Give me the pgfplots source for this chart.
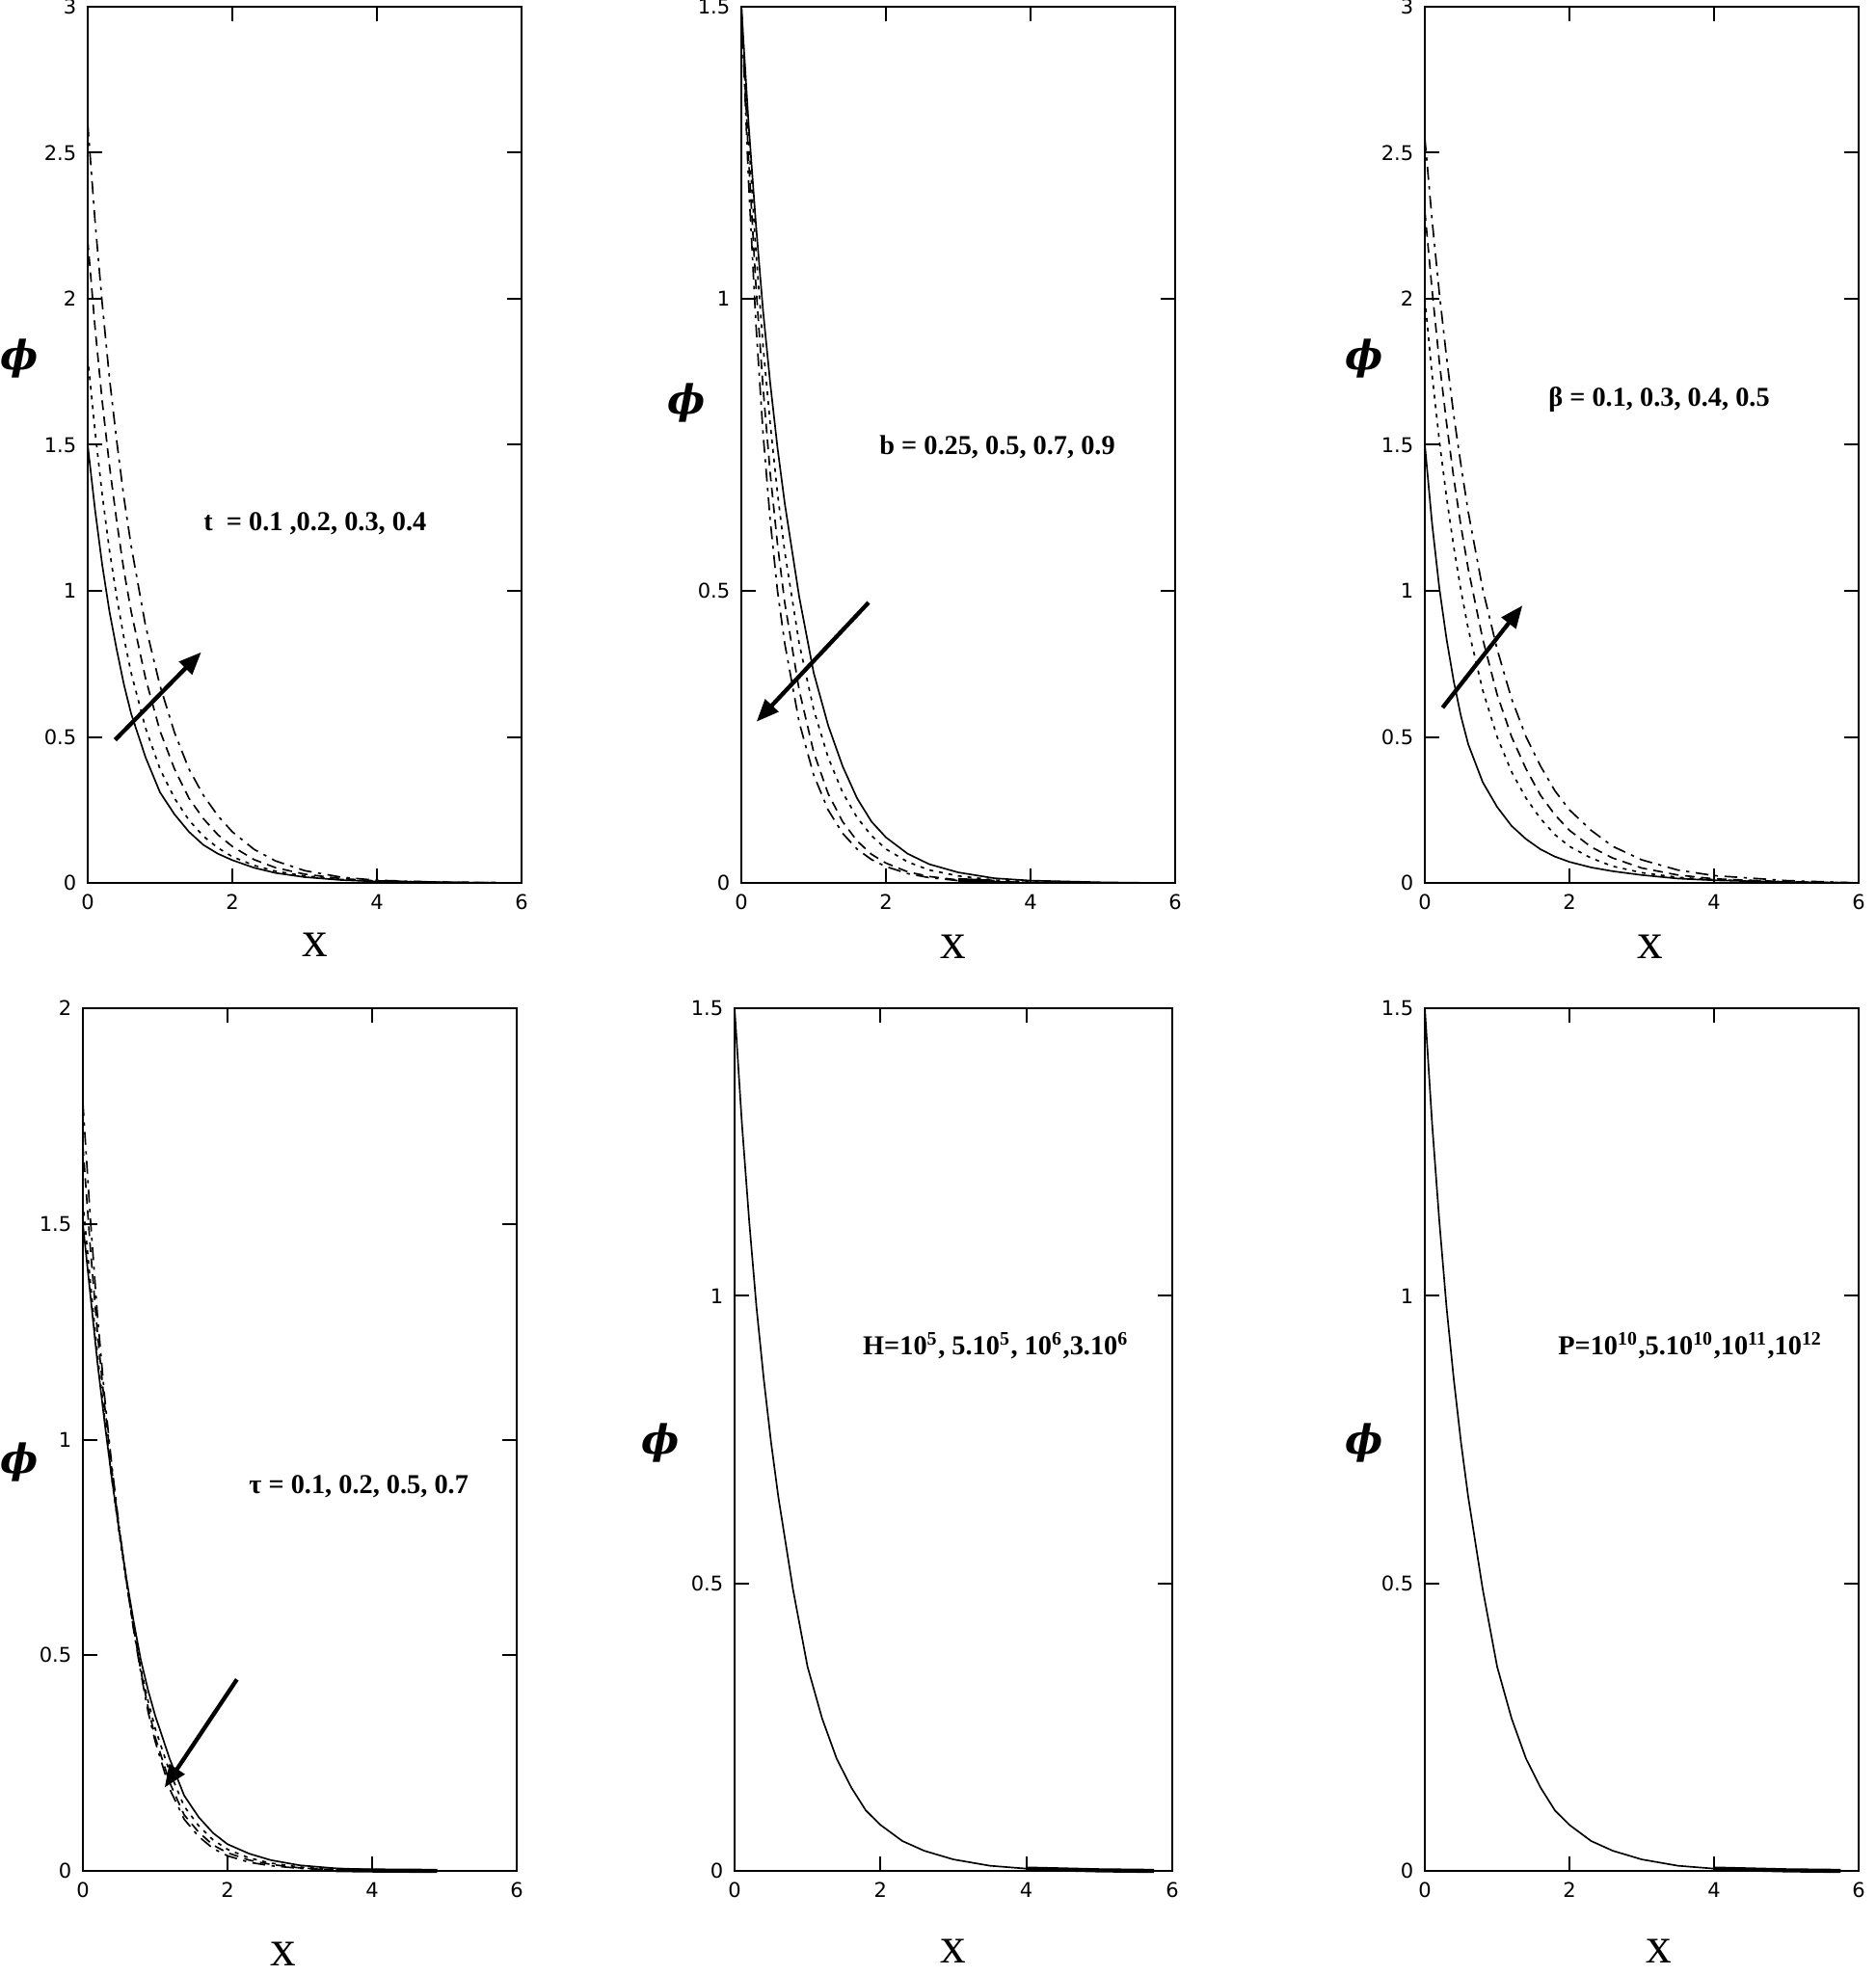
\documentclass[border=0pt]{standalone}
\usepackage{amsmath,amssymb}
\usepackage{fontspec}
\setmainfont{Liberation Serif}
\newfontfamily\tickfont{DejaVu Sans}
\newfontfamily\phifont{DejaVu Serif}
\usepackage{pgfplots}
\pgfplotsset{compat=1.18}
\usepackage{pgfplotstable}
\usetikzlibrary{arrows.meta}

% t panel
\pgfplotstableread{
x    a     b     c     d
0    1.50  1.80  2.20  2.60
0.1  1.28  1.55  1.905 2.27
0.2  1.09  1.33  1.65  1.985
0.3  0.93  1.14  1.43  1.73
0.4  0.80  0.98  1.24  1.515
0.5  0.68  0.84  1.07  1.32
0.6  0.58  0.72  0.93  1.155
0.8  0.43  0.53  0.70  0.88
1.0  0.31  0.39  0.52  0.675
1.2  0.235 0.29  0.39  0.515
1.4  0.175 0.215 0.29  0.39
1.6  0.13  0.16  0.22  0.30
1.8  0.10  0.12  0.165 0.23
2.0  0.078 0.09  0.125 0.175
2.3  0.052 0.06  0.08  0.115
2.6  0.034 0.04  0.052 0.075
3.0  0.02  0.024 0.03  0.042
3.5  0.01  0.012 0.015 0.02
4.0  0.005 0.006 0.007 0.009
5.0  0.002 0.002 0.002 0.002
5.9  0     0     0     0
}\tabT

% b panel
\pgfplotstableread{
x    a     b     c     d
0    1.50  1.50  1.50  1.50
0.1  1.30  1.275 1.24  1.20
0.2  1.13  1.085 1.026 0.96
0.3  0.98  0.92  0.848 0.77
0.4  0.855 0.785 0.70  0.62
0.5  0.745 0.667 0.58  0.50
0.6  0.65  0.567 0.48  0.41
0.8  0.49  0.41  0.33  0.275
1.0  0.36  0.297 0.224 0.185
1.2  0.27  0.215 0.153 0.125
1.4  0.20  0.155 0.105 0.085
1.6  0.145 0.112 0.072 0.058
1.8  0.105 0.081 0.049 0.04
2.0  0.078 0.058 0.034 0.028
2.3  0.05  0.036 0.019 0.016
2.6  0.032 0.022 0.011 0.009
3.0  0.018 0.012 0.005 0.004
3.5  0.008 0.005 0.002 0.002
4.0  0.004 0.002 0.001 0.001
5.0  0.001 0     0     0
5.7  0     0     0     0
}\tabB

% beta panel
\pgfplotstableread{
x    a     b     c     d
0    1.50  2.00  2.30  2.55
0.1  1.23  1.74  2.03  2.27
0.2  1.01  1.515 1.785 2.02
0.3  0.835 1.32  1.575 1.80
0.4  0.69  1.15  1.385 1.60
0.5  0.57  1.00  1.22  1.43
0.6  0.475 0.87  1.075 1.27
0.8  0.345 0.66  0.835 1.006
1.0  0.26  0.50  0.645 0.80
1.2  0.195 0.38  0.50  0.63
1.4  0.15  0.29  0.39  0.50
1.6  0.115 0.22  0.30  0.40
1.8  0.09  0.165 0.233 0.315
2.0  0.072 0.125 0.18  0.25
2.3  0.053 0.085 0.123 0.18
2.6  0.04  0.057 0.085 0.125
3.0  0.027 0.035 0.051 0.079
3.5  0.015 0.019 0.027 0.044
4.0  0.009 0.011 0.014 0.025
5.0  0.003 0.004 0.004 0.008
6.0  0     0     0     0
}\tabBeta

% tau panel
\pgfplotstableread{
x    a     b     c     d
0    1.50  1.55  1.68  1.78
0.1  1.34  1.37  1.45  1.52
0.2  1.18  1.20  1.25  1.29
0.3  1.04  1.05  1.08  1.10
0.4  0.91  0.91  0.93  0.94
0.5  0.79  0.785 0.795 0.80
0.6  0.68  0.67  0.675 0.675
0.7  0.58  0.565 0.565 0.56
0.8  0.49  0.47  0.465 0.46
0.9  0.42  0.395 0.38  0.37
1.0  0.36  0.33  0.31  0.30
1.2  0.26  0.23  0.205 0.19
1.4  0.175 0.15  0.13  0.12
1.6  0.125 0.105 0.09  0.08
1.8  0.088 0.072 0.06  0.052
2.0  0.062 0.05  0.042 0.035
2.3  0.04  0.03  0.025 0.02
2.6  0.025 0.018 0.015 0.012
3.0  0.013 0.009 0.007 0.006
3.5  0.006 0.004 0.003 0.002
4.0  0.003 0.002 0.001 0.001
4.9  0     0     0     0
}\tabTau

% H and P panels (curves coincide)
\pgfplotstableread{
x    a
0    1.50
0.1  1.30
0.2  1.13
0.3  0.98
0.4  0.855
0.5  0.745
0.6  0.65
0.8  0.49
1.0  0.355
1.2  0.265
1.4  0.195
1.6  0.145
1.8  0.105
2.0  0.08
2.3  0.052
2.6  0.035
3.0  0.02
3.5  0.009
4.0  0.004
5.0  0.001
5.75 0
}\tabHP

\pgfplotsset{
  panel/.style={
    scale only axis, anchor=north west, width=135pt,
    xmin=0, xmax=6, ymin=0, xtick={0,2,4,6},
    tick align=inside, major tick length=4.5pt,
    axis line style={line width=0.6pt},
    tick style={black, line width=0.6pt},
    tick label style={font=\tickfont\fontsize{6.3}{7}\selectfont},
    /pgf/number format/assume math mode=true,
    clip=false,
  },
}
\tikzset{
  s1/.style={black, line width=0.5pt},
  s2/.style={black, line width=0.5pt, dash pattern=on 1.2pt off 1.8pt},
  s3/.style={black, line width=0.5pt, dash pattern=on 3pt off 2pt},
  s4/.style={black, line width=0.5pt, dash pattern=on 4pt off 2pt on 1pt off 2pt},
  tail/.style={black, line width=1.3pt},
  arr/.style={line width=1.3pt, -{Triangle[length=7pt,width=5.5pt]}},
}
\newcommand{\philab}{{\phifont\fontsize{12.5}{12.5}\selectfont\bfseries\itshape ϕ}}
\newcommand{\xlab}{{\fontsize{16}{16}\selectfont x}}
\newcommand{\ann}{\bfseries\fontsize{8.5}{10}\selectfont}

\begin{document}
\begin{tikzpicture}
\useasboundingbox (0,0) rectangle (583.5pt,-614.7pt);

% top row
\begin{axis}[panel, at={(27.3pt,-2.1pt)}, height=272.7pt, ymax=3,
    ytick={0,0.5,1,1.5,2,2.5,3}]
  \addplot[s1] table[x=x,y=a] {\tabT};
  \addplot[s2] table[x=x,y=b] {\tabT};
  \addplot[s3] table[x=x,y=c] {\tabT};
  \addplot[s4] table[x=x,y=d] {\tabT};
  \addplot[tail, restrict x to domain=3.3:3.9] table[x=x,y=a] {\tabT};
  \draw[arr] (axis cs:0.38,0.49) -- (axis cs:1.57,0.79);
  \node[font=\ann] at (rel axis cs:0.524,0.41) {t\ \ = 0.1 ,0.2, 0.3, 0.4};
  \node at (rel axis cs:-0.158,0.598) {\philab};
  \node at (rel axis cs:0.524,0) [yshift=-19.2pt] {\xlab};
\end{axis}

\begin{axis}[panel, at={(230.7pt,-2.1pt)}, height=272.7pt, ymax=1.5,
    ytick={0,0.5,1,1.5}]
  \addplot[s1] table[x=x,y=a] {\tabB};
  \addplot[s2] table[x=x,y=b] {\tabB};
  \addplot[s3] table[x=x,y=c] {\tabB};
  \addplot[s4] table[x=x,y=d] {\tabB};
  \addplot[tail, restrict x to domain=3.0:3.7] table[x=x,y=c] {\tabB};
  \draw[arr] (axis cs:1.76,0.48) -- (axis cs:0.21,0.276);
  \node[font=\ann] at (rel axis cs:0.59,0.497) {b = 0.25, 0.5, 0.7, 0.9};
  \node at (rel axis cs:-0.126,0.548) {\philab};
  \node at (rel axis cs:0.488,0) [yshift=-20pt] {\xlab};
\end{axis}

\begin{axis}[panel, at={(443.4pt,-2.1pt)}, height=272.7pt, ymax=3,
    ytick={0,0.5,1,1.5,2,2.5,3}]
  \addplot[s1] table[x=x,y=a] {\tabBeta};
  \addplot[s2] table[x=x,y=b] {\tabBeta};
  \addplot[s3] table[x=x,y=c] {\tabBeta};
  \addplot[s4] table[x=x,y=d] {\tabBeta};
  \draw[arr] (axis cs:0.245,0.60) -- (axis cs:1.35,0.95);
  \node[font=\ann] at (rel axis cs:0.54,0.552) {β = 0.1, 0.3, 0.4, 0.5};
  \node at (rel axis cs:-0.14,0.598) {\philab};
  \node at (rel axis cs:0.52,0) [yshift=-20pt] {\xlab};
\end{axis}

% bottom row
\begin{axis}[panel, at={(25.8pt,-313.8pt)}, height=268.5pt, ymax=2,
    ytick={0,0.5,1,1.5,2}]
  \addplot[s1] table[x=x,y=a] {\tabTau};
  \addplot[s2] table[x=x,y=b] {\tabTau};
  \addplot[s3] table[x=x,y=c] {\tabTau};
  \addplot[s4] table[x=x,y=d] {\tabTau};
  \addplot[tail, restrict x to domain=3.5:4.9] table[x=x,y=d] {\tabTau};
  \draw[arr] (axis cs:2.13,0.444) -- (axis cs:1.13,0.193);
  \node[font=\ann] at (rel axis cs:0.636,0.445) {τ = 0.1, 0.2, 0.5, 0.7};
  \node at (rel axis cs:-0.147,0.474) {\philab};
  \node at (rel axis cs:0.462,0) [yshift=-26pt] {\xlab};
\end{axis}

\begin{axis}[panel, at={(228.6pt,-313.8pt)}, width=136.2pt, height=268.5pt, ymax=1.5,
    ytick={0,0.5,1,1.5}]
  \addplot[s1] table[x=x,y=a] {\tabHP};
  \addplot[tail, restrict x to domain=4.0:5.75] table[x=x,y=a] {\tabHP};
  \node[font=\ann] at (rel axis cs:0.597,0.609)
    {H=10\textsuperscript{5}, 5.10\textsuperscript{5}, 10\textsuperscript{6},3.10\textsuperscript{6}};
  \node at (rel axis cs:-0.17,0.496) {\philab};
  \node at (rel axis cs:0.5,0) [yshift=-25pt] {\xlab};
\end{axis}

\begin{axis}[panel, at={(443.4pt,-313.8pt)}, height=268.5pt, ymax=1.5,
    ytick={0,0.5,1,1.5}]
  \addplot[s1] table[x=x,y=a] {\tabHP};
  \addplot[tail, restrict x to domain=4.0:5.75] table[x=x,y=a] {\tabHP};
  \node[font=\ann] at (rel axis cs:0.612,0.609)
    {P=10\textsuperscript{10},5.10\textsuperscript{10},10\textsuperscript{11},10\textsuperscript{12}};
  \node at (rel axis cs:-0.14,0.496) {\philab};
  \node at (rel axis cs:0.54,0) [yshift=-25pt] {\xlab};
\end{axis}
\end{tikzpicture}
\end{document}
